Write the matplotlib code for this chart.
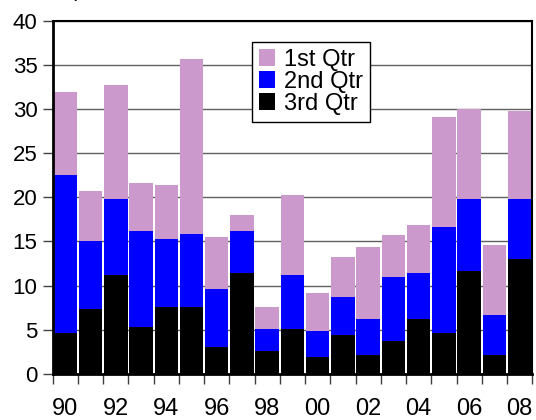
import matplotlib
matplotlib.use("Agg")
import matplotlib.pyplot as plt
import numpy as np

plt.rcParams['font.family'] = ['Liberation Sans', 'DejaVu Sans']

years = list(range(1990, 2009))
q1 = [31.9, 20.7, 32.7, 21.6, 21.4, 35.6, 15.5, 18.0, 7.6, 20.3,
      9.2, 13.25, 14.4, 15.7, 16.9, 29.1, 30.0, 14.6, 29.8]
q2 = [22.5, 15.1, 19.8, 16.2, 15.3, 15.8, 9.6, 16.2, 5.1, 11.2,
      4.9, 8.7, 6.2, 11.0, 11.4, 16.6, 19.8, 6.7, 19.8]
q3 = [4.6, 7.4, 11.2, 5.3, 7.6, 7.6, 3.1, 11.4, 2.6, 5.1,
      1.9, 4.4, 2.15, 3.7, 6.2, 4.6, 11.7, 2.15, 13.0]
series_labels = ['1st Qtr', '2nd Qtr', '3rd Qtr']
colors = ['#CC99CC', '#0000FF', '#000000']
yticks = [0, 5, 10, 15, 20, 25, 30, 35, 40]

fig = plt.figure(figsize=(5.36, 4.20), dpi=100)
ax = fig.add_axes([0.0983, 0.1095, 0.8947, 0.8415])

x = np.arange(len(years))
for vals, lab, col in zip([q1, q2, q3], series_labels, colors):
    ax.bar(x, vals, width=0.93, color=col, label=lab, zorder=2)

ax.set_xlim(-0.5, len(years) - 0.5)
ax.set_ylim(0, 40)
ax.set_yticks(yticks)
ax.set_yticklabels([str(t) for t in yticks], fontsize=16)
ax.yaxis.grid(True, color='#606060', linewidth=1.0, zorder=1)
ax.set_axisbelow(True)

# boundaries as major ticks, labels on minor ticks
ax.set_xticks(np.arange(-0.5, len(years), 1.0))
ax.set_xticklabels([])
lab_pos = [i for i, y in enumerate(years) if y % 2 == 0]
ax.set_xticks(lab_pos, minor=True)
ax.set_xticklabels(['%02d' % (years[i] % 100) for i in lab_pos], minor=True, fontsize=17)
ax.tick_params(axis='x', which='major', direction='out', length=7, width=1.0, color='#404040')
ax.tick_params(axis='x', which='minor', length=0, pad=17)
ax.tick_params(axis='y', direction='out', length=7, width=1.0, pad=4, color='#404040')

for s in ['left', 'bottom']:
    ax.spines[s].set_linewidth(2.0)
for s in ['top', 'right']:
    ax.spines[s].set_linewidth(1.5)

leg = ax.legend(loc='upper left', bbox_to_anchor=(0.415, 0.94), fontsize=17,
                frameon=True, fancybox=False, edgecolor='black', framealpha=1,
                borderpad=0.3, labelspacing=0.0, handlelength=0.7, handleheight=0.7,
                handletextpad=0.35, borderaxespad=0)
leg.get_frame().set_linewidth(1.0)

fig.text(28 / 536, 1 + 4 / 420, 'Computed as of', fontsize=15.5, va='baseline', ha='left')
fig.text(528 / 536, 1 + 4 / 420, 'Percent', fontsize=15.5, va='baseline', ha='right')

fig.savefig('out.png', dpi=100)
